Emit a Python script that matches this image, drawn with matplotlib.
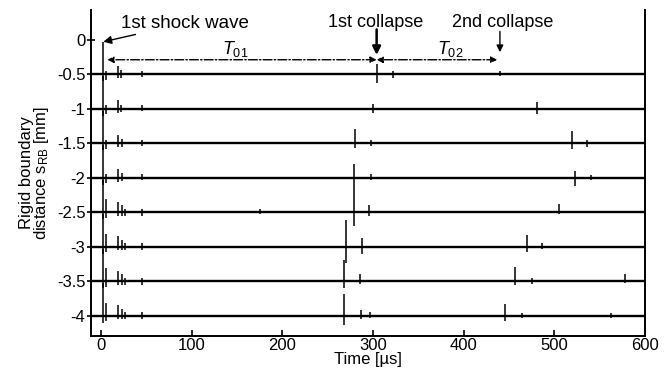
import matplotlib.pyplot as plt

plt.rcParams['font.family'] = ['Liberation Sans', 'DejaVu Sans']
plt.rcParams['axes.unicode_minus'] = False
plt.rcParams['mathtext.fontset'] = 'custom'
plt.rcParams['mathtext.it'] = 'Liberation Sans:italic'
plt.rcParams['mathtext.rm'] = 'Liberation Sans'

# distancias da parede rigida (cada traco fica deslocado nesse valor)
distancias = [-0.5, -1.0, -1.5, -2.0, -2.5, -3.0, -3.5, -4.0]

# picos de cada traco: (tempo us, subida, descida)
picos_05 = [(2.5, 0.47, 0.10), (6, 0.05, 0.08), (19, 0.12, 0.06), (22, 0.06, 0.05), (45, 0.05, 0.04),
            (304, 0.15, 0.13), (322, 0.05, 0.05), (440, 0.04, 0.03)]
picos_10 = [(2.5, 0.47, 0.10), (6, 0.05, 0.08), (19, 0.12, 0.06), (22, 0.06, 0.05), (45, 0.05, 0.04),
            (300, 0.07, 0.06), (481, 0.10, 0.08)]
picos_15 = [(2.5, 0.47, 0.10), (6, 0.05, 0.08), (19, 0.12, 0.06), (23, 0.06, 0.05), (45, 0.05, 0.04),
            (280.5, 0.20, 0.07), (298, 0.05, 0.04), (519, 0.17, 0.09), (536, 0.05, 0.05)]
picos_20 = [(2.5, 0.47, 0.10), (6, 0.05, 0.08), (19, 0.12, 0.06), (23, 0.07, 0.05), (45, 0.05, 0.04),
            (278.7, 0.20, 0.17), (298, 0.05, 0.04), (523, 0.10, 0.12), (541, 0.04, 0.04)]
picos_25 = [(2.5, 0.47, 0.10), (6, 0.19, 0.08), (19, 0.15, 0.05), (23, 0.10, 0.05), (26, 0.05, 0.05),
            (45, 0.05, 0.05), (175, 0.04, 0.02), (279, 0.33, 0.20), (296, 0.10, 0.05), (505, 0.12, 0.03)]
picos_30 = [(2.5, 0.47, 0.10), (6, 0.19, 0.08), (19, 0.15, 0.05), (23, 0.10, 0.05), (26, 0.05, 0.05),
            (45, 0.05, 0.05), (270.6, 0.39, 0.23), (288, 0.12, 0.10), (470, 0.17, 0.07), (486, 0.05, 0.04)]
picos_35 = [(2.5, 0.47, 0.10), (6, 0.19, 0.08), (19, 0.15, 0.05), (23, 0.10, 0.05), (26, 0.05, 0.05),
            (45, 0.05, 0.05), (268.4, 0.31, 0.10), (286, 0.10, 0.04), (456.4, 0.20, 0.05),
            (475, 0.05, 0.04), (578, 0.10, 0.03)]
picos_40 = [(2.5, 0.47, 0.10), (6, 0.19, 0.08), (19, 0.15, 0.05), (23, 0.10, 0.05), (26, 0.05, 0.05),
            (45, 0.05, 0.05), (267.7, 0.31, 0.13), (287, 0.08, 0.05), (297, 0.05, 0.04),
            (446, 0.17, 0.08), (464, 0.04, 0.04), (563, 0.04, 0.03)]
todos_picos = [picos_05, picos_10, picos_15, picos_20, picos_25, picos_30, picos_35, picos_40]

x_ticks = [0, 100, 200, 300, 400, 500, 600]
y_ticks = [0, -0.5, -1, -1.5, -2, -2.5, -3, -3.5, -4]
y_labels = ['0', '-0.5', '-1', '-1.5', '-2', '-2.5', '-3', '-3.5', '-4']

# tempos marcados nas anotacoes
t_choque = 2.5
t_colapso1 = 304
t_colapso2 = 440

fig = plt.figure(figsize=(6.67, 3.73), dpi=100)
ax = fig.add_axes([0.1365, 0.1, 0.8305, 0.873])

for dist, picos in zip(distancias, todos_picos):
    ax.hlines(dist, -11, 600, color='black', lw=1.7)
    for t, sobe, desce in picos:
        ax.vlines(t, dist - desce, dist + sobe, color='black', lw=1.1)

ax.set_xlim(-11, 600)
ax.set_ylim(-4.29, 0.43)
ax.set_xticks(x_ticks)
ax.set_yticks(y_ticks)
ax.set_yticklabels(y_labels)
ax.tick_params(axis='x', direction='in', length=4, width=1.2, labelsize=12, pad=2)
ax.tick_params(axis='y', direction='inout', length=6, width=1.2, labelsize=12, pad=1)
ax.spines['top'].set_visible(False)
for s in ['left', 'right', 'bottom']:
    ax.spines[s].set_linewidth(1.4)

ax.set_xlabel('Time [µs]', fontsize=12, labelpad=-1)
ax.set_ylabel('Rigid boundary\ndistance s$_\\mathrm{RB}$ [mm]', fontsize=12, labelpad=4,
              linespacing=0.9)

# anotacoes
ax.annotate('1st shock wave', xy=(t_choque, -0.03), xytext=(22, 0.24),
            fontsize=13.5, ha='left', va='center',
            arrowprops=dict(arrowstyle='-|>', color='black', lw=1.0, mutation_scale=12,
                            shrinkA=0, shrinkB=0),
            annotation_clip=False)
ax.annotate('', xy=(t_colapso1, -0.22), xytext=(t_colapso1, 0.15),
            arrowprops=dict(arrowstyle='-|>', color='black', lw=1.8, mutation_scale=12,
                            shrinkA=0, shrinkB=0))
ax.text(t_colapso1 - 1, 0.25, '1st collapse', fontsize=13, ha='center', va='center')
ax.annotate('', xy=(t_colapso2, -0.18), xytext=(t_colapso2, 0.12),
            arrowprops=dict(arrowstyle='-|>', color='black', lw=1.0, mutation_scale=10,
                            shrinkA=0, shrinkB=0))
ax.text(t_colapso2 + 3, 0.25, '2nd collapse', fontsize=13, ha='center', va='center')

y_seta = -0.29
ax.annotate('', xy=(7, y_seta), xytext=(t_colapso1, y_seta),
            arrowprops=dict(arrowstyle='<|-|>', color='black', lw=1.0, ls='-.',
                            mutation_scale=9, shrinkA=0, shrinkB=0))
ax.annotate('', xy=(t_colapso1, y_seta), xytext=(t_colapso2 - 3, y_seta),
            arrowprops=dict(arrowstyle='<|-|>', color='black', lw=1.0, ls='-.',
                            mutation_scale=9, shrinkA=0, shrinkB=0))
ax.text(148, -0.13, '$\\mathit{T}_{\\mathit{01}}$', fontsize=13, ha='center', va='center')
ax.text(385, -0.13, '$\\mathit{T}_{\\mathit{02}}$', fontsize=13, ha='center', va='center')

fig.savefig('out.png', dpi=100)
